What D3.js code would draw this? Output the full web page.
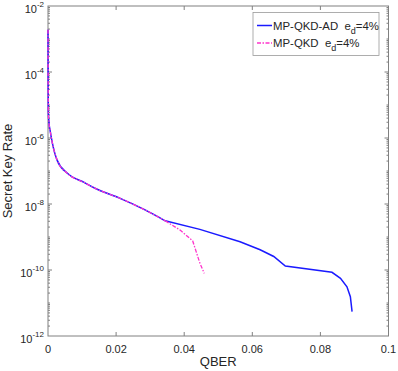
<!DOCTYPE html>
<html>
<head>
<meta charset="utf-8">
<script src="https://cdn.jsdelivr.net/npm/d3@7"></script>
<style>
  body { margin: 0; background: #fff; }
  svg { font-family: "Liberation Sans", Arial, sans-serif; }
</style>
</head>
<body>
<div id="container"></div>
<script>
// shared part of both curves (they overlap up to ~0.034)
var qberCommon = [0, 0.00002, 0.00005, 0.0001, 0.0003, 0.0006, 0.0013, 0.0027, 0.0057, 0.0106, 0.0138, 0.0212, 0.0285, 0.0344];
var rateCommon = [1.9e-3, 4.0e-4, 4.0e-5, 6.3e-6, 2.8e-6, 1.74e-6, 6.9e-7, 2.1e-7, 8.5e-8, 4.5e-8, 3.0e-8, 1.48e-8, 6.6e-9, 3.1e-9];

var qberAD = [0.0446, 0.0564, 0.0623, 0.0663, 0.0697, 0.0834, 0.0859, 0.0878, 0.0888, 0.0893];
var rateAD = [1.7e-9, 7.2e-10, 4.1e-10, 2.57e-10, 1.32e-10, 8.5e-11, 5.6e-11, 3.1e-11, 1.55e-11, 5.5e-12];

var qberMP = [0.0388, 0.0425, 0.0446, 0.0459];
var rateMP = [1.62e-9, 7.6e-10, 1.62e-10, 7.9e-11];

var xTicks = [0, 0.02, 0.04, 0.06, 0.08, 0.1];
var xTickLabels = ["0", "0.02", "0.04", "0.06", "0.08", "0.1"];
var yExps = [-2, -4, -6, -8, -10, -12];

var seriesNames = ["MP-QKD-AD", "MP-QKD"];

const width = 398;
const height = 371;
const plotL = 48, plotR = 388.5, plotT = 6, plotB = 336;

const x = d3.scaleLinear().domain([0, 0.1]).range([plotL, plotR]);
const y = d3.scaleLog().domain([1e-12, 1e-2]).range([plotB, plotT]);

const svg = d3.select("#container").append("svg")
    .attr("width", width)
    .attr("height", height);

const axisColor = "#808080";
const textColor = "#262626";
const blue = "#1a1aff", pink = "#ff33cc";
const pinkDash = "4,1.5,1.5,1.5";

// ticks on all four sides, pointing inward
const tickG = svg.append("g").attr("stroke", axisColor).attr("stroke-width", 1);

xTicks.forEach(function(t) {
  if (t === 0 || t === 0.1) return;
  tickG.append("line").attr("x1", x(t)).attr("x2", x(t)).attr("y1", plotB).attr("y2", plotB - 4);
  tickG.append("line").attr("x1", x(t)).attr("x2", x(t)).attr("y1", plotT).attr("y2", plotT + 4);
});

for (var e = -12; e < -2; e++) {
  for (var m = 1; m < 10; m++) {
    var v = m * Math.pow(10, e);
    if (v >= 1e-2 || v <= 1e-12) continue;
    var len = (m === 1 && e % 2 === 0) ? 4 : 2;
    tickG.append("line").attr("x1", plotL).attr("x2", plotL + len).attr("y1", y(v)).attr("y2", y(v));
    tickG.append("line").attr("x1", plotR).attr("x2", plotR - len).attr("y1", y(v)).attr("y2", y(v));
  }
}

svg.append("rect")
  .attr("x", plotL).attr("y", plotT)
  .attr("width", plotR - plotL).attr("height", plotB - plotT)
  .attr("fill", "none").attr("stroke", axisColor).attr("stroke-width", 1);

// x tick labels
svg.append("g").selectAll("text")
  .data(xTicks)
  .enter().append("text")
  .attr("x", d => x(d))
  .attr("y", plotB + 17)
  .attr("text-anchor", "middle")
  .attr("font-size", 11)
  .attr("fill", textColor)
  .text((d, i) => xTickLabels[i]);

// y tick labels 10^k
yExps.forEach(function(k) {
  var yy = y(Math.pow(10, k));
  var t = svg.append("text")
    .attr("x", plotL - 4)
    .attr("y", yy + 7)
    .attr("text-anchor", "end")
    .attr("font-size", 11)
    .attr("fill", textColor);
  t.append("tspan").text("10");
  t.append("tspan").attr("dy", -6.5).attr("font-size", 8).text(String(k));
});

// axis labels
svg.append("text")
  .attr("x", (plotL + plotR) / 2)
  .attr("y", 366)
  .attr("text-anchor", "middle")
  .attr("font-size", 13)
  .attr("fill", textColor)
  .text("QBER");

svg.append("text")
  .attr("transform", "translate(12," + ((plotT + plotB) / 2) + ") rotate(-90)")
  .attr("text-anchor", "middle")
  .attr("font-size", 13)
  .attr("fill", textColor)
  .text("Secret Key Rate");

// lines: smooth shared part, straight segments for the tails
const smooth = d3.line().curve(d3.curveMonotoneX)
  .x(d => x(d[0]))
  .y(d => y(d[1]));
const straight = d3.line()
  .x(d => x(d[0]))
  .y(d => y(d[1]));

var commonPts = qberCommon.map((q, i) => [q, rateCommon[i]]);
var last = commonPts[commonPts.length - 1];
var adTail = [last].concat(qberAD.map((q, i) => [q, rateAD[i]]));
var mpTail = [last].concat(qberMP.map((q, i) => [q, rateMP[i]]));

svg.append("path")
  .datum(adTail)
  .attr("d", straight)
  .attr("fill", "none")
  .attr("stroke", blue)
  .attr("stroke-width", 1.5);

svg.append("path")
  .datum(commonPts)
  .attr("d", smooth)
  .attr("fill", "none")
  .attr("stroke", blue)
  .attr("stroke-width", 1.5);

svg.append("path")
  .datum(commonPts)
  .attr("d", smooth)
  .attr("fill", "none")
  .attr("stroke", pink)
  .attr("stroke-width", 1.3)
  .attr("stroke-dasharray", pinkDash);

svg.append("path")
  .datum(mpTail)
  .attr("d", straight)
  .attr("fill", "none")
  .attr("stroke", pink)
  .attr("stroke-width", 1.3)
  .attr("stroke-dasharray", pinkDash);

// legend
const lg = svg.append("g");
lg.append("rect")
  .attr("x", 253).attr("y", 12.5)
  .attr("width", 126).attr("height", 43)
  .attr("fill", "#fff").attr("stroke", "#999").attr("stroke-width", 0.8);

var legendRows = [
  { name: seriesNames[0], color: blue, dash: null, w: 1.5, yy: 25.5 },
  { name: seriesNames[1], color: pink, dash: pinkDash, w: 1.3, yy: 43 }
];

legendRows.forEach(function(r) {
  lg.append("line")
    .attr("x1", 257).attr("x2", 272)
    .attr("y1", r.yy).attr("y2", r.yy)
    .attr("stroke", r.color).attr("stroke-width", r.w)
    .attr("stroke-dasharray", r.dash);
  var t = lg.append("text")
    .attr("x", 273).attr("y", r.yy + 4)
    .attr("font-size", 11.4)
    .attr("fill", textColor);
  t.append("tspan").text(r.name + "\u00a0\u00a0e");
  t.append("tspan").attr("dy", 4).attr("font-size", 9).text("d");
  t.append("tspan").attr("dy", -4).text("=4%");
});
</script>
</body>
</html>
